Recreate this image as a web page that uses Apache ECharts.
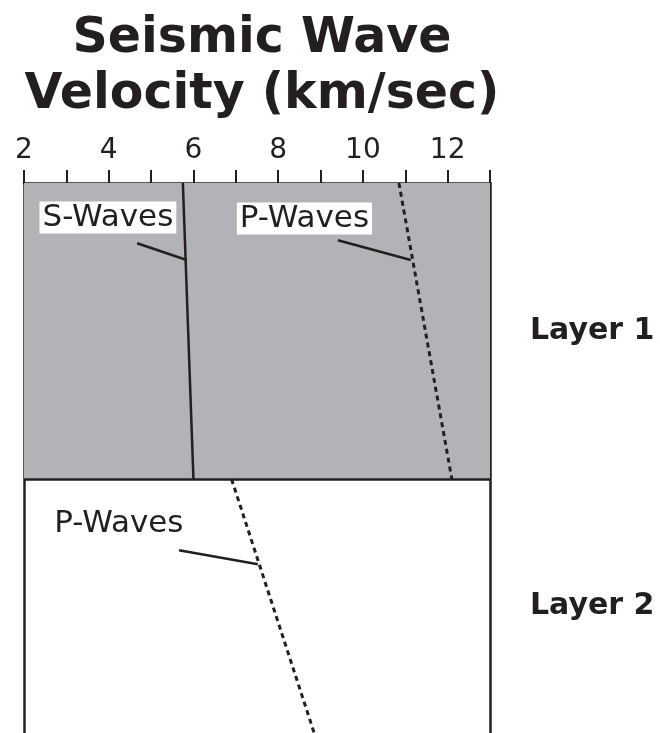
<!DOCTYPE html>
<html>
<head>
<meta charset="utf-8">
<script src="https://cdn.jsdelivr.net/npm/echarts@6/dist/echarts.min.js"></script>
<style>html,body{margin:0;padding:0;background:#fff}#c{width:660px;height:733px}</style>
</head>
<body>
<div id="c"></div>
<script>
// Velocity axis (km/sec)
const velocityMin = 2, velocityMax = 13;
const tickLabels = [2, 4, 6, 8, 10, 12];
// Depth (arbitrary units, top of chart = 0)
const layerBoundary = 30;
const depthMax = 55.7;
const layerNames = ['Layer 1', 'Layer 2'];
// Wave velocity profiles: [velocity, depth]
const sWaveLayer1 = [[5.75, 0], [6.0, 30]];
const pWaveLayer1 = [[10.85, 0], [12.1, 30]];
const pWaveLayer2 = [[6.9, 30], [8.85, 55.7]];
// Label annotations: [velocity, depth, text, boxed]
const waveLabels = [[3.98, 3.5, 'S-Waves', true], [8.62, 3.6, 'P-Waves', true], [4.24, 34.5, 'P-Waves', false]];
// Leader lines
const leaderS = [[4.67, 6.1], [5.84, 7.8]];
const leaderP1 = [[9.41, 5.8], [11.13, 7.8]];
const leaderP2 = [[5.66, 37.2], [7.52, 38.6]];

const ink = '#231f20';
const font = '"DejaVu Sans", Verdana, sans-serif';
const chart = echarts.init(document.getElementById('c'));

function line(data, dashed) {
  return {
    type: 'line', data: data, symbol: 'none', silent: true, z: 5,
    lineStyle: { color: ink, width: dashed ? 3 : 2.5, type: dashed ? [5, 4] : 'solid' }
  };
}

chart.setOption({
  animation: false,
  title: {
    text: 'Seismic Wave\nVelocity (km/sec)',
    left: 257, top: 6, textAlign: 'center',
    textStyle: { fontFamily: font, fontSize: 49, fontWeight: 'bold', lineHeight: 56, color: ink }
  },
  grid: { left: 24, right: 170, top: 183, bottom: 0 },
  xAxis: {
    type: 'value', position: 'top', min: velocityMin, max: velocityMax, interval: 1,
    axisLine: { show: true, onZero: false, lineStyle: { color: ink, width: 2.5 } },
    axisTick: { show: true, length: 13, lineStyle: { color: ink, width: 2 } },
    axisLabel: {
      margin: 18, fontFamily: font, fontSize: 28, color: ink,
      formatter: v => tickLabels.indexOf(v) >= 0 ? String(v) : ''
    },
    splitLine: { show: false }
  },
  yAxis: [
    { type: 'value', inverse: true, min: 0, max: depthMax, position: 'left',
      axisLine: { show: true, onZero: false, lineStyle: { color: ink, width: 2.5 } },
      axisTick: { show: false }, axisLabel: { show: false }, splitLine: { show: false } },
    { type: 'value', inverse: true, min: 0, max: depthMax, position: 'right',
      axisLine: { show: true, onZero: false, lineStyle: { color: ink, width: 2.5 } },
      axisTick: { show: false }, axisLabel: { show: false }, splitLine: { show: false } }
  ],
  series: [
    {
      type: 'line', data: [], silent: true,
      markArea: {
        silent: true,
        label: { show: true, position: 'right', distance: 40, fontFamily: font, fontSize: 30, fontWeight: 'bold', color: ink },
        data: [
          [{ yAxis: 0, name: layerNames[0], itemStyle: { color: '#b2b3b6' } }, { yAxis: layerBoundary }],
          [{ yAxis: layerBoundary, name: layerNames[1], itemStyle: { color: 'rgba(0,0,0,0)' } }, { yAxis: depthMax }]
        ]
      },
      markLine: {
        silent: true, symbol: 'none', label: { show: false },
        lineStyle: { color: ink, width: 2.5, type: 'solid' },
        data: [{ yAxis: layerBoundary }]
      }
    },
    line(sWaveLayer1, false),
    line(pWaveLayer1, true),
    line(pWaveLayer2, true),
    line(leaderS, false),
    line(leaderP1, false),
    line(leaderP2, false),
    {
      type: 'scatter', symbolSize: 0, silent: true, z: 6,
      itemStyle: { opacity: 1 },
      data: waveLabels.map(d => ({
        value: [d[0], d[1]],
        label: {
          show: true, position: 'inside', formatter: d[2],
          fontFamily: font, fontSize: 31, color: ink,
          backgroundColor: d[3] ? '#ffffff' : 'transparent', padding: [1, 3, 0, 3]
        }
      }))
    }
  ]
});
</script>
</body>
</html>
